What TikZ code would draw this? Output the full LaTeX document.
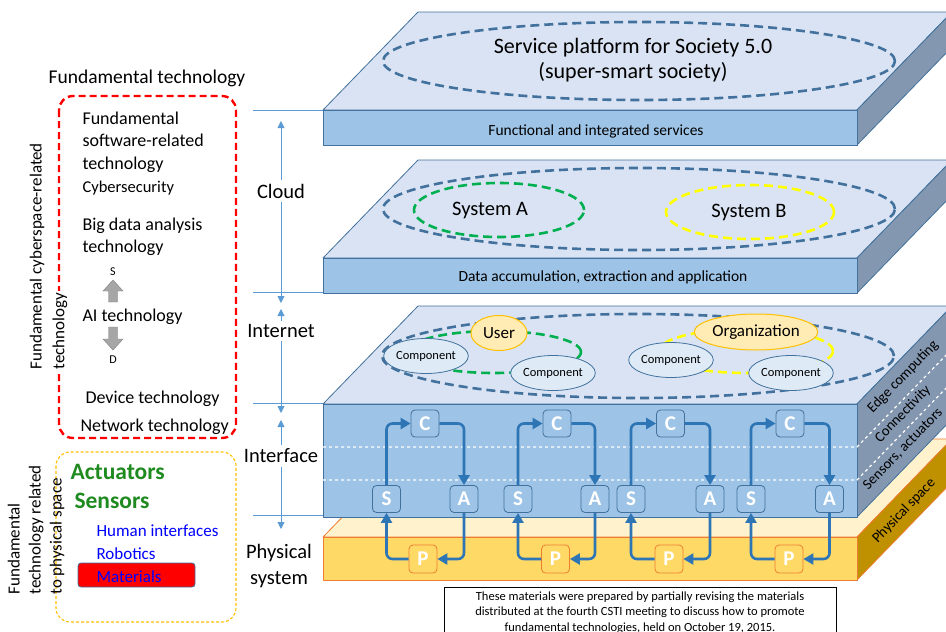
\documentclass[tikz,border=0pt]{standalone}
\usepackage{fontspec}
\setmainfont{Carlito}
\usetikzlibrary{arrows.meta,shapes.geometric}

\definecolor{topface}{HTML}{DAE3F3}
\definecolor{frontface}{HTML}{9DC3E6}
\definecolor{sideface}{HTML}{8497B0}
\definecolor{slabedge}{HTML}{41719C}
\definecolor{guide}{HTML}{5B9BD5}
\definecolor{flow}{HTML}{2E75B6}
\definecolor{phystop}{HTML}{FFF2CC}
\definecolor{physfront}{HTML}{FFD966}
\definecolor{physside}{HTML}{BF9000}
\definecolor{physedge}{HTML}{ED7D31}
\definecolor{compfill}{HTML}{DEEBF7}
\definecolor{actorfill}{HTML}{FFEBB4}
\definecolor{actoredge}{HTML}{FFC000}
\definecolor{sysgreen}{HTML}{00B050}
\definecolor{sysyellow}{HTML}{FFFF00}
\definecolor{techgreen}{HTML}{1F8A1F}
\definecolor{blockgray}{HTML}{A6A6A6}

\begin{document}
\begin{tikzpicture}[x=1pt,y=-1pt,
    slab/.style={draw=slabedge, line width=0.8pt, line join=round},
    physslab/.style={draw=physedge, line width=0.8pt, line join=round},
    ring/.style={draw=slabedge, dash pattern=on 9pt off 5pt, line width=2.6pt},
    greenring/.style={draw=sysgreen, dash pattern=on 9pt off 5pt, line width=2.6pt},
    yellowring/.style={draw=sysyellow, dash pattern=on 9pt off 5pt, line width=2.6pt},
    component/.style={ellipse, draw=slabedge, fill=compfill, line width=0.8pt, inner sep=0pt,
      minimum width=56pt, minimum height=35pt, font=\fontsize{12.5}{14}\selectfont},
    actor/.style={ellipse, draw=actoredge, fill=actorfill, line width=1pt, inner sep=0pt,
      minimum width=56pt, minimum height=35pt, font=\fontsize{17}{20}\selectfont},
    cyber/.style={rectangle, rounded corners=4pt, draw=slabedge, fill=frontface, line width=0.8pt,
      minimum width=28pt, minimum height=27pt, inner sep=0pt, text=white,
      font=\fontsize{21}{24}\selectfont\bfseries},
    phys/.style={cyber, draw=physedge, fill=physfront, minimum height=28pt},
    loop/.style={draw=flow, line width=2.6pt, rounded corners=6pt,
      -{Triangle[length=10pt,width=11pt]}},
    level/.style={draw=guide, line width=0.9pt},
    span/.style={draw=guide, line width=0.9pt, -{Triangle[length=7pt,width=7pt]}},
    layer/.style={font=\fontsize{20.5}{26}\selectfont, align=center},
    sidelabel/.style={rotate=45.9, font=\fontsize{14.5}{16}\selectfont},
    lefttext/.style={anchor=west, align=left, font=\fontsize{18}{22.5}\selectfont}]
\useasboundingbox (0,0) rectangle (946,632);

% Drawing physical slab
\draw [physslab, fill=phystop] (323,537) -- (418,439) -- (952,439) -- (857,537) -- cycle;
\draw [physslab, fill=physside] (857,537) -- (952,439) -- (952,482) -- (857,580) -- cycle;
\draw [physslab, fill=physfront] (323,537) rectangle (857,580);

% Drawing interface slab
\draw [slab, fill=topface] (323,404) -- (418,306) -- (952,306) -- (857,404) -- cycle;
\draw [slab, fill=sideface] (857,404) -- (952,306) -- (952,419) -- (857,517) -- cycle;
\draw [slab, fill=frontface] (323,404) rectangle (857,517);
\draw [white, dashed, line width=1.2pt] (323,447) -- (857,447) -- (952,349);
\draw [white, dashed, line width=1.2pt] (323,480) -- (857,480) -- (952,382);

% Drawing data slab
\draw [slab, fill=topface] (323,258) -- (418,160) -- (952,160) -- (857,258) -- cycle;
\draw [slab, fill=sideface] (857,258) -- (952,160) -- (952,195) -- (857,293) -- cycle;
\draw [slab, fill=frontface] (323,258) rectangle (857,293);

% Drawing service slab
\draw [slab, fill=topface] (323,110) -- (418,12) -- (952,12) -- (857,110) -- cycle;
\draw [slab, fill=sideface] (857,110) -- (952,12) -- (952,47) -- (857,145) -- cycle;
\draw [slab, fill=frontface] (323,110) rectangle (857,145);

% Marking service platform
\draw [ring] (639,61) ellipse [x radius=256pt, y radius=39pt];
\node [font=\fontsize{22}{25}\selectfont, align=center] (platform) at (633,60)
  {Service platform for Society 5.0\\(super-smart society)};
\node [font=\fontsize{15.5}{18}\selectfont] (services) at (596,131) {Functional and integrated services};

% Marking systems
\draw [ring] (639,209) ellipse [x radius=256pt, y radius=41pt];
\draw [greenring] (499,210) ellipse [x radius=85pt, y radius=27pt];
\draw [yellowring] (750,212) ellipse [x radius=84pt, y radius=27pt];
\node [font=\fontsize{20.5}{24}\selectfont] (sysa) at (490,210) {System A};
\node [font=\fontsize{20.5}{24}\selectfont] (sysb) at (749,212) {System B};
\node [font=\fontsize{15.5}{18}\selectfont] (data) at (603,277) {Data accumulation, extraction and application};

% Marking components
\draw [ring] (638,356) ellipse [x radius=256pt, y radius=42pt];
\draw [greenring] (494,352) ellipse [x radius=87pt, y radius=21pt];
\draw [yellowring] (746,351) ellipse [x radius=87pt, y radius=22pt];
\node [component] (compa) at (426,356) {Component};
\node [component] (compb) at (553,373) {Component};
\node [actor] (user) at (499,333) {User};
\node [component] (compc) at (671,360) {Component};
\node [component] (compd) at (791,373) {Component};
\node [actor, minimum height=36pt] (org) at (756,332) {Organization};

% Marking side labels
\node [sidelabel] (edge) at (903,377) {Edge computing};
\node [sidelabel] (conn) at (903,414) {Connectivity};
\node [sidelabel] (sens) at (903,449) {Sensors, actuators};
\node [sidelabel] (physsp) at (904,511) {Physical space};

% Drawing loop 1
\node [cyber] (c1) at (425,423.5) {C};
\node [cyber] (s1) at (386.5,499) {S};
\node [cyber] (a1) at (464,499) {A};
\node [phys] (p1) at (423,559) {P};
\draw [loop] (s1.north) |- (c1.west);
\draw [loop] (c1.east) -| (a1.north);
\draw [loop] (a1.south) |- (p1.east);
\draw [loop] (p1.west) -| (s1.south);

% Drawing loop 2
\node [cyber] (c2) at (557,423.5) {C};
\node [cyber] (s2) at (518,499) {S};
\node [cyber] (a2) at (595,499) {A};
\node [phys] (p2) at (555.5,559) {P};
\draw [loop] (s2.north) |- (c2.west);
\draw [loop] (c2.east) -| (a2.north);
\draw [loop] (a2.south) |- (p2.east);
\draw [loop] (p2.west) -| (s2.south);

% Drawing loop 3
\node [cyber] (c3) at (670.5,423.5) {C};
\node [cyber] (s3) at (631,499) {S};
\node [cyber] (a3) at (710,499) {A};
\node [phys] (p3) at (669,559) {P};
\draw [loop] (s3.north) |- (c3.west);
\draw [loop] (c3.east) -| (a3.north);
\draw [loop] (a3.south) |- (p3.east);
\draw [loop] (p3.west) -| (s3.south);

% Drawing loop 4
\node [cyber] (c4) at (790,423.5) {C};
\node [cyber] (s4) at (751,499) {S};
\node [cyber] (a4) at (829.5,499) {A};
\node [phys] (p4) at (789,559) {P};
\draw [loop] (s4.north) |- (c4.west);
\draw [loop] (c4.east) -| (a4.north);
\draw [loop] (a4.south) |- (p4.east);
\draw [loop] (p4.west) -| (s4.south);

% Drawing level lines
\draw [level] (253,110) -- (323,110);
\draw [level] (253,292) -- (323,292);
\draw [level] (253,403) -- (323,403);
\draw [level] (253,515) -- (323,515);

% Marking layers
\node [layer] (cloud) at (281,191) {Cloud};
\node [layer] (internet) at (281,331) {Internet};
\node [layer] (interface) at (281,456) {Interface};
\node [layer] (physsys) at (279,566) {Physical\\system};
\coordinate (cloudtop) at (281,121);
\coordinate (cloudbot) at (281,303);
\coordinate (nettop) at (281,309);
\coordinate (netbot) at (281,413);
\coordinate (iftop) at (281,420);
\coordinate (ifbot) at (281,529);
\draw [span] (cloud) -- (cloudtop);
\draw [span] (cloud) -- (cloudbot);
\draw [span] (internet) -- (nettop);
\draw [span] (internet) -- (netbot);
\draw [span] (interface) -- (iftop);
\draw [span] (interface) -- (ifbot);

% Drawing cyberspace technology box
\node [font=\fontsize{19.5}{22}\selectfont] (fundtech) at (147,78) {Fundamental technology};
\draw [red, line width=2.4pt, dash pattern=on 7pt off 4pt, rounded corners=14pt] (59,96) rectangle (236,438);
\node [rotate=90, anchor=west, font=\fontsize{17}{20}\selectfont] (cyberside) at (37,373)
  {Fundamental cyberspace-related};
\node [rotate=90, anchor=west, fill=white, inner sep=1.5pt, font=\fontsize{17}{20}\selectfont] (cybertech) at (60,371)
  {technology};
\node [lefttext] (software) at (79,142) {Fundamental\\software-related\\technology};
\node [lefttext, font=\fontsize{16.5}{20}\selectfont] (security) at (79,188) {Cybersecurity};
\node [lefttext] (bigdata) at (79,237) {Big data analysis\\technology};
\node [font=\fontsize{12}{14}\selectfont] (sup) at (113,272) {S};
\draw [draw=gray, fill=blockgray] (113,280) -- (123,291) -- (117.5,291) -- (117.5,302) -- (108.5,302) -- (108.5,291) -- (103,291) -- cycle;
\node [lefttext] (ai) at (79,317) {AI technology};
\draw [draw=gray, fill=blockgray] (113,350) -- (123,339) -- (117.5,339) -- (117.5,327) -- (108.5,327) -- (108.5,339) -- (103,339) -- cycle;
\node [font=\fontsize{12}{14}\selectfont] (sdown) at (113,360) {D};
\node [lefttext] (device) at (82,399) {Device technology};
\node [lefttext] (network) at (77,427) {Network technology};

% Drawing physical technology box
\draw [actoredge, line width=1.1pt, dash pattern=on 3pt off 2pt, rounded corners=14pt] (56,452) rectangle (236,622);
\node [rotate=90, anchor=west, align=left, font=\fontsize{17}{21}\selectfont] (physside) at (36,598)
  {Fundamental\\technology related\\to physical space};
\node [anchor=west, text=techgreen, font=\fontsize{23.5}{26}\selectfont\bfseries] (actuators) at (67,472) {Actuators};
\node [anchor=west, text=techgreen, font=\fontsize{23.5}{26}\selectfont\bfseries] (sensors) at (71,501) {Sensors};
\node [anchor=west, text=blue, font=\fontsize{17}{20}\selectfont] (human) at (93,531) {Human interfaces};
\node [anchor=west, text=blue, font=\fontsize{17}{20}\selectfont] (robotics) at (93,554) {Robotics};
\draw [draw=slabedge, fill=red, line width=0.8pt, rounded corners=3pt] (78,563) rectangle (195,587);
\node [anchor=west, text=blue, font=\fontsize{17}{20}\selectfont] (materials) at (93,577) {Materials};

% Marking source note
\draw [line width=0.8pt] (444,587) rectangle (836,650);
\node [anchor=north, align=center, font=\fontsize{12.5}{15.5}\selectfont] (note) at (640,588)
  {These materials were prepared by partially revising the materials\\distributed at the fourth CSTI meeting to discuss how to promote\\fundamental technologies, held on October 19, 2015.};
\end{tikzpicture}
\end{document}
